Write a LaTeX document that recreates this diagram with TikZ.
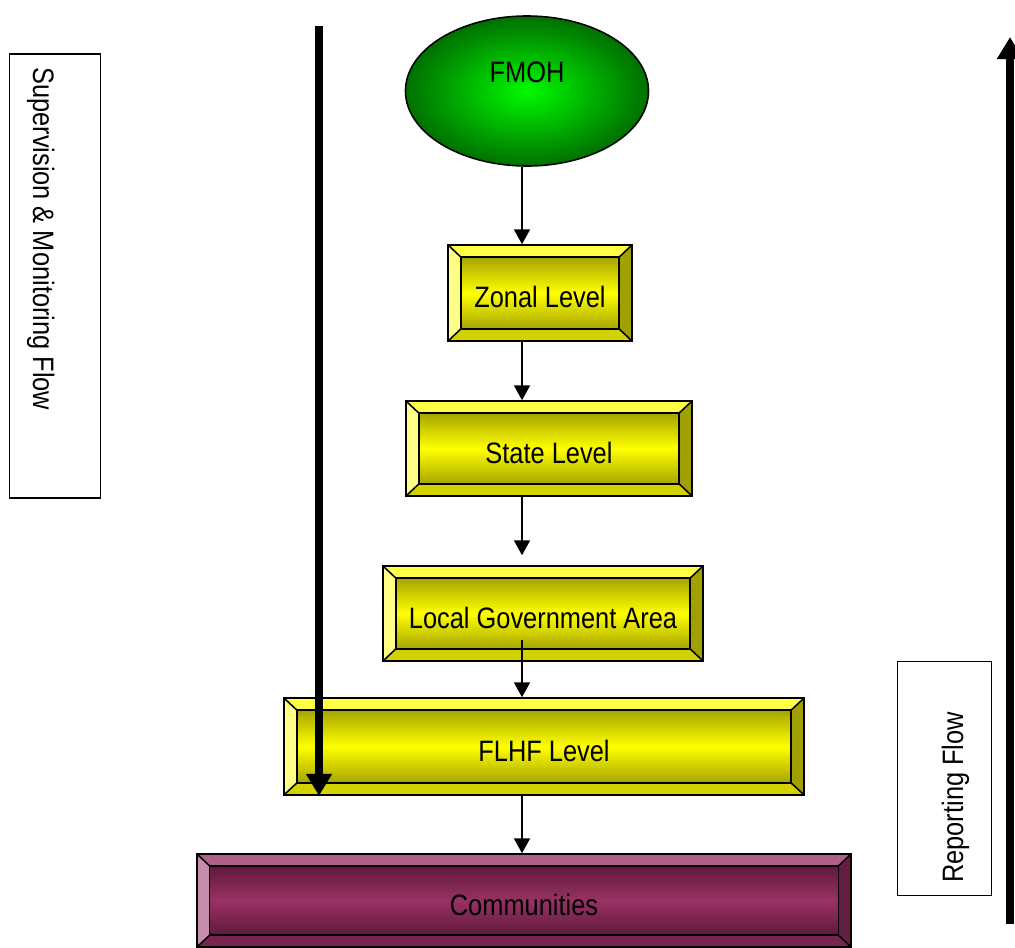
\documentclass[tikz,border=0pt]{standalone}
\usepackage{fontspec}
\setmainfont{Liberation Sans}[FakeStretch=0.86]
\usepackage{xcolor}
\definecolor{LvTop}{RGB}{255,255,70}
\definecolor{LvLeft}{RGB}{255,255,135}
\definecolor{LvRight}{RGB}{160,160,0}
\definecolor{LvBot}{RGB}{210,210,0}
\definecolor{LvEdge}{RGB}{165,165,0}
\definecolor{LvMid}{RGB}{255,255,0}
\definecolor{CmTop}{RGB}{176,96,136}
\definecolor{CmLeft}{RGB}{200,140,175}
\definecolor{CmRight}{RGB}{100,30,65}
\definecolor{CmBot}{RGB}{120,35,80}
\definecolor{CmEdge}{RGB}{95,25,60}
\definecolor{CmMid}{RGB}{152,50,100}
\definecolor{HdMid}{RGB}{0,250,0}
\definecolor{HdEdge}{RGB}{0,112,0}
\usepackage{tikz}
\usetikzlibrary{shapes}
\usetikzlibrary{arrows.meta}
\newcommand{\Bevel}[6]{%
  \path (path picture bounding box.north west) coordinate (oNW)
        (path picture bounding box.north east) coordinate (oNE)
        (path picture bounding box.south west) coordinate (oSW)
        (path picture bounding box.south east) coordinate (oSE);
  \path ([shift={(0.32cm,-0.3cm)}]oNW) coordinate (iNW)
        ([shift={(-0.32cm,-0.3cm)}]oNE) coordinate (iNE)
        ([shift={(0.32cm,0.3cm)}]oSW) coordinate (iSW)
        ([shift={(-0.32cm,0.3cm)}]oSE) coordinate (iSE);
  \fill[#1] (oNW) -- (oNE) -- (iNE) -- (iNW) -- cycle;
  \fill[#2] (oNW) -- (iNW) -- (iSW) -- (oSW) -- cycle;
  \fill[#3] (oNE) -- (oSE) -- (iSE) -- (iNE) -- cycle;
  \fill[#4] (oSW) -- (iSW) -- (iSE) -- (oSE) -- cycle;
  \shade[top color=#5,bottom color=#5,middle color=#6] (iNW) rectangle (iSE);
  \draw (iNW) rectangle (iSE);
  \draw (oNW) -- (iNW) (oNE) -- (iNE) (oSW) -- (iSW) (oSE) -- (iSE);}
\tikzstyle{Head}=[ellipse,draw=black,line width=1.1pt,inner color=HdMid,
outer color=HdEdge,minimum width=6.075cm,minimum height=3.75cm,
text height=0.6cm,text depth=1.05cm]
\tikzstyle{Level}=[rectangle,draw=black,line width=1.1pt,inner sep=0pt,
text height=0.74cm,text depth=0cm,
path picture={\Bevel{LvTop}{LvLeft}{LvRight}{LvBot}{LvEdge}{LvMid}}]
\tikzstyle{Base}=[rectangle,draw=black,line width=1.1pt,inner sep=0pt,
text height=0.74cm,text depth=0cm,
path picture={\Bevel{CmTop}{CmLeft}{CmRight}{CmBot}{CmEdge}{CmMid}}]
\tikzstyle{Link}=[-{Triangle[length=0.37cm,width=0.4cm]},line width=1pt]
\tikzstyle{Flow}=[-{Triangle[length=0.55cm,width=0.62cm]},line width=5.7pt]
\tikzstyle{SideBox}=[rectangle,draw=black,line width=0.9pt]
\tikzstyle{SideText}=[inner sep=0pt,anchor=base west]

\begin{document}
\begin{tikzpicture}[x=0.025cm,y=-0.025cm,font=\fontsize{21}{25}\selectfont]
    \useasboundingbox (0,0) rectangle (1015,948);
        % side boxes
        \node[SideBox,minimum width=2.275cm,minimum height=11.1cm](supbox)
            at(55,276){};
        \node[SideText,rotate=-90](suptext)at(33,67)
            {Supervision \& Monitoring Flow};
        \node[SideBox,minimum width=2.35cm,minimum height=5.85cm](repbox)
            at(944.5,778.5){};
        \node[SideText,rotate=90](reptext)at(963,883){Reporting Flow};
        % levels
        \node[Head](fmoh)at(527,91){FMOH};
        \node[Level,minimum width=4.6cm,minimum height=2.4cm](zonal)
            at(540,293){Zonal Level};
        \node[Level,minimum width=7.15cm,minimum height=2.375cm](state)
            at(549,448.5){State Level};
        \node[Level,minimum width=8cm,minimum height=2.375cm](lga)
            at(543,613.5){Local Government Area};
        \node[Level,minimum width=13cm,minimum height=2.425cm](flhf)
            at(544,746.5){FLHF Level};
        \node[Base,minimum width=16.35cm,minimum height=2.325cm](comm)
            at(524,900.5){Communities};
        \coordinate(spine)at(522,0);
        \draw[Link](fmoh.south -| spine)--(zonal.north -| spine);
        \draw[Link](zonal.south -| spine)--(state.north -| spine);
        \draw[Link,shorten >=0.25cm](state.south -| spine)--(lga.north -| spine);
        \draw[Link,shorten <=-0.55cm](lga.south -| spine)--(flhf.north -| spine);
        \draw[Link](flhf.south -| spine)--(comm.north -| spine);
        % flows
        \coordinate(suptop)at(319,26);
        \draw[Flow](suptop)--(suptop |- flhf.south);
        \coordinate(repbot)at(1010,924);
        \coordinate(reptop)at(1010,37);
        \draw[Flow](repbot)--(reptop);
    \end{tikzpicture}
\end{document}
